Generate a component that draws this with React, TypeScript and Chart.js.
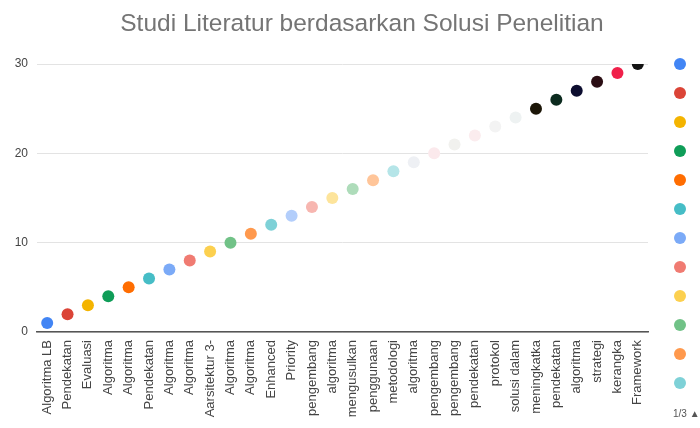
import { useEffect, useRef } from "react";
import { Chart, registerables } from "chart.js";

Chart.register(...registerables);

const chartTitle = "Studi Literatur berdasarkan Solusi Penelitian";

const categories = [
  "Algoritma LB",
  "Pendekatan",
  "Evaluasi",
  "Algoritma",
  "Algoritma",
  "Pendekatan",
  "Algoritma",
  "Algoritma",
  "Aarsitektur 3-",
  "Algoritma",
  "Algoritma",
  "Enhanced",
  "Priority",
  "pengembang",
  "algoritma",
  "mengusulkan",
  "penggunaan",
  "metodologi",
  "algoritma",
  "pengembang",
  "pengembang",
  "pendekatan",
  "protokol",
  "solusi dalam",
  "meningkatka",
  "pendekatan",
  "algoritma",
  "strategi",
  "kerangka",
  "Framework",
];

const counts = [
  1, 2, 3, 4, 5, 6, 7, 8, 9, 10, 11, 12, 13, 14, 15, 16, 17, 18, 19, 20, 21,
  22, 23, 24, 25, 26, 27, 28, 29, 30,
];

const pointColors = [
  "#4285f4", "#db4437", "#f4b400", "#0f9d58", "#ff6d01", "#46bdc6",
  "#7baaf7", "#f07b72", "#fcd04f", "#71c287", "#ff994d", "#7ed1d7",
  "#b3cefb", "#f7b6b0", "#fde49b", "#aedcba", "#ffc599", "#b5e5e8",
  "#eef0f4", "#fbe9ec", "#f1f1ee", "#fbecee", "#f3f3f3", "#eef2f2",
  "#1c1608", "#0c2b1f", "#0c0d2f", "#2b0e14", "#f0204a", "#141414",
];

const yTicks = [0, 10, 20, 30];
const legendPage = "1/3 \u25B2\u25BC";
const legendVisible = 12;

const FONT = '"Liberation Sans", Arial, sans-serif';

const decorations = {
  id: "decorations",
  afterDraw(chart: Chart) {
    const ctx = chart.ctx;
    ctx.save();
    // title
    ctx.font = `24.5px ${FONT}`;
    ctx.fillStyle = "#757575";
    ctx.textAlign = "center";
    ctx.textBaseline = "middle";
    ctx.fillText(chartTitle, 362, 24);

    // legend column (first page)
    ctx.textAlign = "left";
    ctx.font = `12px ${FONT}`;
    for (let i = 0; i < legendVisible; i++) {
      const y = 64 + i * 29;
      ctx.beginPath();
      ctx.arc(680, y, 6, 0, Math.PI * 2);
      ctx.fillStyle = pointColors[i];
      ctx.fill();
      ctx.fillStyle = "#444";
      ctx.fillText(categories[i], 700, y);
    }
    ctx.font = `10px ${FONT}`;
    ctx.fillStyle = "#555";
    ctx.fillText(legendPage, 673, 414);
    ctx.restore();
  },
};

export default function App() {
  const canvasRef = useRef<HTMLCanvasElement | null>(null);

  useEffect(() => {
    if (!canvasRef.current) return;
    const chart = new Chart(canvasRef.current, {
      type: "line",
      data: {
        labels: categories,
        datasets: [
          {
            label: "Solusi",
            data: counts,
            showLine: false,
            pointRadius: 6,
            pointHoverRadius: 6,
            pointBorderWidth: 0,
            pointBackgroundColor: pointColors,
            pointBorderColor: pointColors,
            clip: { left: false, top: 0, right: false, bottom: false } as any,
          },
        ],
      },
      options: {
        responsive: false,
        animation: false,
        layout: { padding: { top: 64, right: 52, left: 0, bottom: 0 } },
        plugins: {
          legend: { display: false },
          title: { display: false },
          tooltip: { enabled: false },
        },
        scales: {
          x: {
            type: "category",
            offset: true,
            grid: { display: false, drawTicks: false },
            border: { display: true, color: "#555", width: 1.5 },
            ticks: {
              autoSkip: false,
              maxRotation: 90,
              minRotation: 90,
              padding: 8,
              color: "#444",
              font: { family: FONT, size: 13 },
            },
            afterFit(scale: any) {
              scale.height = 96;
            },
          },
          y: {
            min: 0,
            max: 30,
            afterBuildTicks(scale: any) {
              scale.ticks = yTicks.map((v) => ({ value: v }));
            },
            grid: { color: "#e3e3e3", drawTicks: false },
            border: { display: false },
            ticks: {
              padding: 9,
              color: "#444",
              font: { family: FONT, size: 12 },
            },
            afterFit(scale: any) {
              scale.width = 37;
            },
          },
        },
      },
      plugins: [decorations],
    });
    return () => chart.destroy();
  }, []);

  return (
    <div
      style={{
        position: "fixed",
        left: 0,
        top: 0,
        width: 700,
        height: 428,
        overflow: "hidden",
        background: "#fff",
      }}
    >
      <canvas ref={canvasRef} width={700} height={428} />
    </div>
  );
}
